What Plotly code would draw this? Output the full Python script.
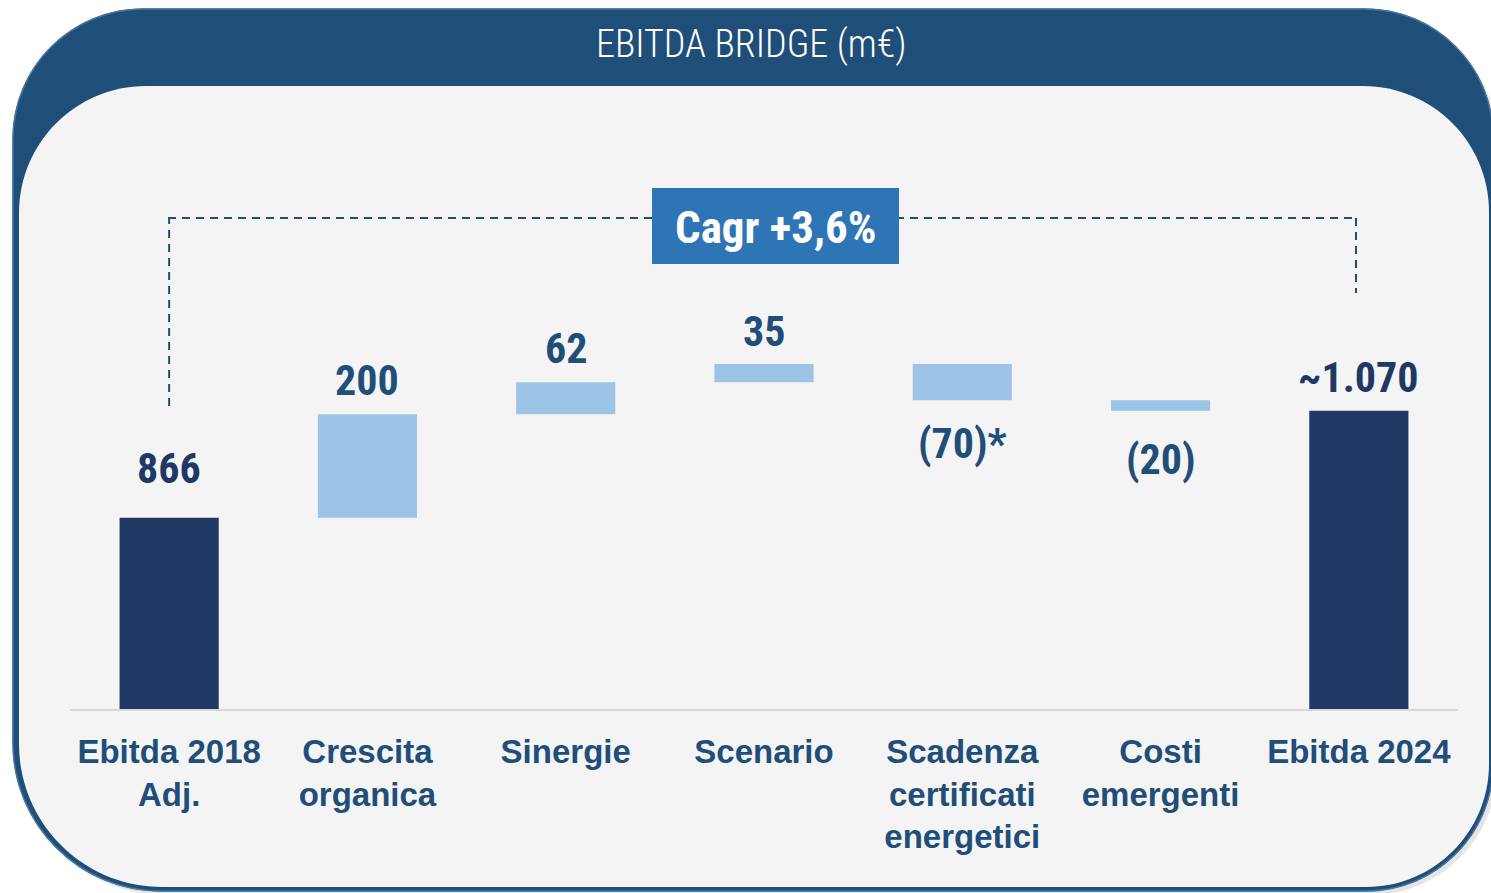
import numpy as np
import plotly.graph_objects as go

# ---------------- data ----------------
categories = ["Ebitda 2018<br>Adj.", "Crescita<br>organica", "Sinergie", "Scenario",
              "Scadenza<br>certificati<br>energetici", "Costi<br>emergenti", "Ebitda 2024"]
measures = ["absolute", "relative", "relative", "relative", "relative", "relative", "total"]
values = [866, 200, 62, 35, -70, -20, 0]
value_labels = ["866", "200", "62", "35", "(70)*", "(20)", "~1.070"]
title_text = "EBITDA BRIDGE (m€)"
cagr_text = "Cagr +3,6%"

# ---------------- styles ----------------
W, H = 1491, 893
NAVY = "#203864"
STEEL = "#1F4E79"
LIGHT = "#9DC3E6"
BOX = "#2E75B6"
GREY_BG = "#F4F4F4"
NARROW = "Roboto Condensed, Liberation Sans Narrow, Roboto, sans-serif"
SANS = "Liberation Sans, Arial, sans-serif"
label_gap = [23, 7, 7, 6, 17, 22, 7]

# plot area in pixels
PL, PR, PT, PB = 70, 1458, 150, 709
YMIN = 497
PX_PER_UNIT = 0.518
YMAX = YMIN + (PB - PT) / PX_PER_UNIT


def P(x, y):
    return f"{x / W:.6f},{1 - y / H:.6f}"


def rrect(x0, y0, x1, y1, rtl, rtr, rbr, rbl):
    k = 0.5523
    return (
        f"M {P(x0 + rtl, y0)} L {P(x1 - rtr, y0)} "
        f"C {P(x1 - rtr + k * rtr, y0)} {P(x1, y0 + rtr - k * rtr)} {P(x1, y0 + rtr)} "
        f"L {P(x1, y1 - rbr)} "
        f"C {P(x1, y1 - rbr + k * rbr)} {P(x1 - rbr + k * rbr, y1)} {P(x1 - rbr, y1)} "
        f"L {P(x0 + rbl, y1)} "
        f"C {P(x0 + rbl - k * rbl, y1)} {P(x0, y1 - rbl + k * rbl)} {P(x0, y1 - rbl)} "
        f"L {P(x0, y0 + rtl)} "
        f"C {P(x0, y0 + rtl - k * rtl)} {P(x0 + rtl - k * rtl, y0)} {P(x0 + rtl, y0)} Z"
    )


# compute bar ends from data
tops, bottoms = [], []
run = 0
for m, v in zip(measures, values):
    if m == "absolute":
        lo, hi = 0, v
        run = v
    elif m == "total":
        lo, hi = 0, run
    else:
        lo, hi = (run, run + v) if v >= 0 else (run + v, run)
        run += v
    bottoms.append(lo)
    tops.append(hi)

fig = go.Figure()
fig.add_trace(go.Waterfall(
    x=categories, y=values, measure=measures,
    increasing=dict(marker=dict(color=LIGHT)),
    decreasing=dict(marker=dict(color=LIGHT)),
    totals=dict(marker=dict(color=NAVY)),
    connector=dict(visible=False),
    hoverinfo="skip", showlegend=False,
))

shapes = []
# shadow
shapes.append(dict(type="path", xref="paper", yref="paper", layer="below",
                   path=rrect(17, 13, 1497, 895, 130, 128, 127, 148),
                   fillcolor="rgba(0,0,0,0.10)", line=dict(width=0)))
# outer frame
shapes.append(dict(type="path", xref="paper", yref="paper", layer="below",
                   path=rrect(13, 9, 1493, 891, 130, 128, 127, 148),
                   fillcolor=STEEL, line=dict(color=STEEL, width=1)))
# top highlight of frame
shapes.append(dict(type="path", xref="paper", yref="paper", layer="below",
                   path=rrect(13, 9, 1493, 891, 130, 128, 127, 148),
                   fillcolor="rgba(0,0,0,0)", line=dict(color="#4675A0", width=1.5)))
# inner light area
shapes.append(dict(type="path", xref="paper", yref="paper", layer="below",
                   path=rrect(19, 86, 1489, 887, 127, 126, 123, 143),
                   fillcolor=GREY_BG, line=dict(width=0)))

# CAGR dashed bracket
dash = dict(color=STEEL, width=2, dash="8px,6px")
shapes.append(dict(type="line", xref="x", yref="paper", x0=categories[0], x1=categories[0],
                   y0=1 - 406 / H, y1=1 - 218 / H, line=dash, layer="below"))
shapes.append(dict(type="line", xref="paper", yref="paper", x0=168 / W, x1=1356 / W,
                   y0=1 - 218 / H, y1=1 - 218 / H, line=dash, layer="below"))
shapes.append(dict(type="line", xref="paper", yref="paper", x0=1356 / W, x1=1356 / W,
                   y0=1 - 218 / H, y1=1 - 293 / H, line=dash, layer="below"))
# CAGR box
shapes.append(dict(type="rect", xref="paper", yref="paper", x0=652 / W, x1=899 / W,
                   y0=1 - 264 / H, y1=1 - 188 / H, fillcolor=BOX, line=dict(width=0)))

annotations = []
annotations.append(dict(xref="paper", yref="paper", x=751 / W, y=1 - 44 / H,
                        xanchor="center", yanchor="middle",
                        text=title_text, showarrow=False,
                        font=dict(family=NARROW, size=38, color="white", weight=300)))
annotations.append(dict(xref="paper", yref="paper", x=775 / W, y=1 - 227 / H,
                        xanchor="center", yanchor="middle",
                        text=cagr_text, showarrow=False,
                        font=dict(family=NARROW, size=45, color="white", weight="bold")))

for i, (c, lab) in enumerate(zip(categories, value_labels)):
    v = values[i]
    col = NAVY if measures[i] in ("absolute", "total") else STEEL
    if measures[i] == "relative" and v < 0:
        annotations.append(dict(x=c, y=bottoms[i], xref="x", yref="y", text=lab,
                                showarrow=False, yanchor="top", yshift=-label_gap[i],
                                font=dict(family=NARROW, size=42, color=col, weight="bold")))
    else:
        annotations.append(dict(x=c, y=tops[i], xref="x", yref="y", text=lab,
                                showarrow=False, yanchor="bottom", yshift=label_gap[i],
                                font=dict(family=NARROW, size=42, color=col, weight="bold")))

fig.update_layout(
    width=W, height=H,
    margin=dict(l=0, r=0, t=0, b=0),
    paper_bgcolor="white", plot_bgcolor="rgba(0,0,0,0)",
    shapes=shapes, annotations=annotations,
    waterfallgap=0.5,
    xaxis=dict(domain=[PL / W, PR / W], showline=True, linecolor="#D9D9D9", linewidth=2,
               showgrid=False, zeroline=False, automargin=False, ticks="",
               tickfont=dict(family=SANS, size=33, color=STEEL, weight="bold"),
               ticklabelstandoff=12, fixedrange=True),
    yaxis=dict(domain=[1 - PB / H, 1 - PT / H], range=[YMIN, YMAX], visible=False,
               showgrid=False, zeroline=False, automargin=False, fixedrange=True),
)

fig.write_html("out.html", config={"displayModeBar": False},
               post_script="document.body.style.margin='0';document.body.style.overflow='hidden';")
